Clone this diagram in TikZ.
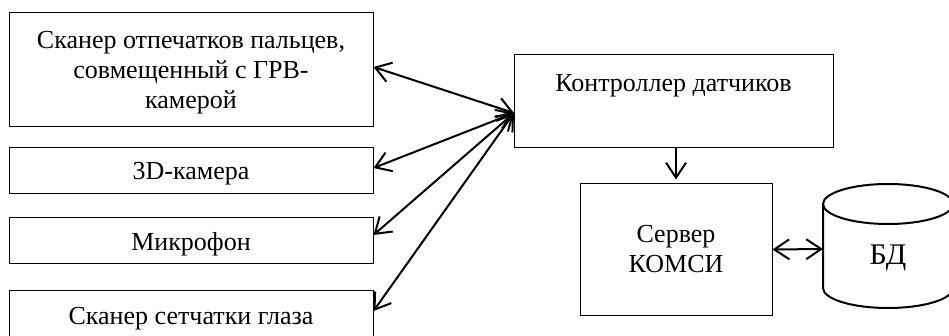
\documentclass[tikz,border=0pt]{standalone}
\usepackage{fontspec}
\setmainfont{Liberation Serif}
\usetikzlibrary{arrows.meta}
\tikzset{
  box/.style={draw, line width=1pt, align=center, inner sep=0pt},
  link/.style={line width=2pt, {Straight Barb[length=15pt,width=20pt,line width=2pt]}-{Straight Barb[length=15pt,width=20pt,line width=2pt]}},
  onelink/.style={line width=2pt, -{Straight Barb[length=15pt,width=20pt,line width=2pt]}},
  cyl/.style={line width=2pt},
  txt/.style={font=\fontsize{26}{30}\selectfont},
  lowtext/.style={text depth=0pt}
}
\begin{document}
\begin{tikzpicture}[x=1pt,y=-1pt]
\useasboundingbox (0,0) rectangle (949,336);
\node (b1) [box, txt, lowtext, minimum width=364pt, minimum height=114pt] at (191,70) {Сканер отпечатков пальцев,\\совмещенный с ГРВ-\\камерой};
\node (b2) [box, txt, lowtext, minimum width=364pt, minimum height=46pt] at (191,171) {3D-камера};
\node (b3) [box, txt, lowtext, minimum width=364pt, minimum height=46pt] at (191,241) {Микрофон};
\node (b4) [box, txt, lowtext, minimum width=364pt, minimum height=52pt] at (191,316) {Сканер сетчатки глаза};
\node (ctrl) [box, minimum width=319pt, minimum height=93pt,
  label={[txt, anchor=north, yshift=-16pt]north:Контроллер датчиков}] at (673.5,101.5) {};
\node (srv) [box, txt, minimum width=192pt, minimum height=131pt] at (676,249.5) {Сервер\\КОМСИ};
\coordinate (cin) at (514,113);
\draw[link] ([yshift=3pt]b1.east) -- (cin);
\draw[link] ([yshift=3pt]b2.east) -- (cin);
\draw[link] ([yshift=6pt]b3.east) -- (cin);
\draw[link] ([yshift=5pt]b4.east) -- (cin);
\draw[onelink, shorten >=4pt] (ctrl.south -| srv.north) -- (srv.north);
% database cylinder
\draw[cyl] (888,204) ellipse [x radius=65pt, y radius=20pt];
\draw[cyl] (823,204) -- (823,288) arc[start angle=180, end angle=360, x radius=65pt, y radius=20pt] -- (953,204);
\node (db) [font=\fontsize{30}{34}\selectfont] at (888,258) {БД};
\coordinate (dbw) at (823,249);
\draw[link] (srv.east) -- (dbw);
\end{tikzpicture}
\end{document}
